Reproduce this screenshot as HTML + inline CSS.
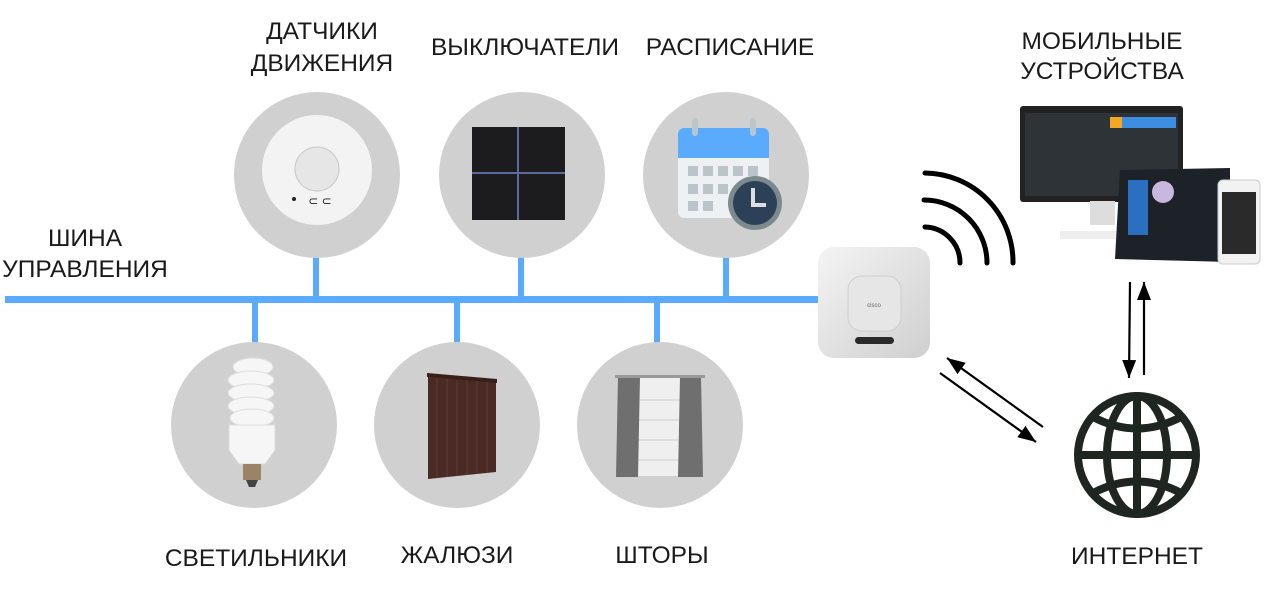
<!DOCTYPE html>
<html><head><meta charset="utf-8"><style>
body{margin:0;background:#fff;width:1280px;height:594px;overflow:hidden}
svg text{font-family:"Liberation Sans",sans-serif;font-size:24.5px;fill:#1a1a1a;text-anchor:middle}
</style></head><body>
<svg width="1280" height="594" viewBox="0 0 1280 594">
<defs>
<linearGradient id="cg" x1="0" y1="0" x2="1" y2="1"><stop offset="0" stop-color="#f4f4f4"/><stop offset="1" stop-color="#cfcfcf"/></linearGradient>
<marker id="ah2" viewBox="0 0 10 10" markerWidth="18" markerHeight="14" refX="10" refY="5" orient="auto" markerUnits="userSpaceOnUse" preserveAspectRatio="none"><path d="M0,0 L10,5 L0,10Z" fill="#000"/></marker>
</defs>
<g fill="#5aaafd">
<rect x="5" y="296" width="815" height="7"/>
<rect x="313" y="255" width="6" height="42"/><rect x="518" y="255" width="6" height="42"/><rect x="723" y="255" width="6" height="42"/>
<rect x="252" y="300" width="6" height="46"/><rect x="454" y="300" width="6" height="46"/><rect x="654" y="300" width="6" height="46"/>
</g>
<g fill="#d0d0d0">
<circle cx="317" cy="175" r="83"/><circle cx="522" cy="175" r="83"/><circle cx="726" cy="175" r="83"/>
<circle cx="254" cy="425" r="83"/><circle cx="457" cy="425" r="83"/><circle cx="660" cy="425" r="83"/>
</g>
<circle cx="317" cy="170" r="55" fill="#f3f3f3"/>
<circle cx="317" cy="169" r="22" fill="#e6e6e6" stroke="#c8c8c8"/>
<circle cx="294" cy="199" r="2" fill="#222"/>
<text x="320" y="205" style="font-size:12px">⊂ ⊂</text>
<rect x="472" y="127" width="93" height="93" fill="#1c1c1e"/>
<rect x="517" y="127" width="2" height="93" fill="#5a6a9a"/><rect x="472" y="172" width="93" height="2" fill="#5a6a9a"/>
<rect x="678" y="128" width="91" height="90" rx="6" fill="#eef1f3"/>
<path d="M678,134 a6,6 0 0 1 6,-6 h79 a6,6 0 0 1 6,6 v24 h-91z" fill="#5aaafd"/>
<rect x="692" y="118" width="6" height="18" rx="3" fill="#bcc4cb"/><rect x="750" y="118" width="6" height="18" rx="3" fill="#bcc4cb"/>
<g fill="#bcc4cb"><rect x="688" y="166" width="10" height="10"/><rect x="703" y="166" width="10" height="10"/><rect x="718" y="166" width="10" height="10"/><rect x="733" y="166" width="10" height="10"/><rect x="748" y="166" width="10" height="10"/>
<rect x="688" y="184" width="10" height="10"/><rect x="703" y="184" width="10" height="10"/><rect x="718" y="184" width="10" height="10"/>
<rect x="688" y="201" width="10" height="10"/><rect x="703" y="201" width="10" height="10"/></g>
<circle cx="755" cy="203" r="27" fill="#7b8a8c"/><circle cx="755" cy="203" r="22" fill="#2c4058"/>
<path d="M753,188 v17 h13" stroke="#ddd" stroke-width="4" fill="none"/>
<g fill="#f6f6f6" stroke="#ddd">
<ellipse cx="253" cy="367" rx="20" ry="9"/><ellipse cx="251" cy="380" rx="23" ry="9"/><ellipse cx="251" cy="393" rx="23" ry="9"/><ellipse cx="251" cy="406" rx="23" ry="9"/><ellipse cx="252" cy="418" rx="22" ry="9"/>
<path d="M229,425 h46 v25 l-10,14 h-26 l-10,-14z"/></g>
<rect x="243" y="464" width="18" height="16" fill="#9a8468"/><path d="M246,480 h12 l-3,7 h-6z" fill="#444"/>
<path d="M428,377 l68,5 v90 l-68,7z" fill="#4a2a24"/><path d="M427,373 l70,6 v4 l-70,-6z" fill="#3a1e1a"/>
<g stroke="#603a32" stroke-width="1"><line x1="437" y1="378" x2="437" y2="478"/><line x1="447" y1="379" x2="447" y2="477"/><line x1="457" y1="380" x2="457" y2="476"/><line x1="467" y1="380" x2="467" y2="475"/><line x1="477" y1="381" x2="477" y2="474"/><line x1="487" y1="382" x2="487" y2="473"/></g>
<rect x="630" y="378" width="58" height="98" fill="#efefef"/>
<g stroke="#cfcfcf"><line x1="635" y1="400" x2="685" y2="400"/><line x1="635" y1="420" x2="685" y2="420"/><line x1="635" y1="440" x2="685" y2="440"/><line x1="635" y1="460" x2="685" y2="460"/></g>
<path d="M618,377 h22 l-2,100 h-22z" fill="#6f6f6f"/><path d="M680,377 h21 l2,100 h-25z" fill="#6f6f6f"/>
<rect x="615" y="375" width="90" height="3" fill="#999"/>
<rect x="818" y="247" width="112" height="111" rx="16" fill="url(#cg)"/>
<rect x="848" y="276" width="53" height="55" rx="14" fill="#e6e6e6" stroke="#cfcfcf"/>
<text x="874" y="307" style="font-size:6px;fill:#666">cisco</text>
<rect x="855" y="337" width="39" height="7" rx="3.5" fill="#2a2a2a"/>
<g stroke="#000" stroke-width="5" fill="none" stroke-linecap="round">
<path d="M925,227 A36,36 0 0 1 960,263"/><path d="M924,200 A63,63 0 0 1 987,263"/><path d="M925,173 A89,89 0 0 1 1013,263"/>
</g>
<rect x="1020" y="106" width="163" height="96" rx="3" fill="#222"/>
<rect x="1025" y="113" width="153" height="83" fill="#2e3338"/>
<rect x="1110" y="117" width="66" height="11" fill="#3d8ee0"/><rect x="1110" y="117" width="12" height="11" fill="#f5a623"/>
<rect x="1090" y="201" width="25" height="24" fill="#ddd"/>
<rect x="1060" y="231" width="60" height="8" fill="#eee"/>
<path d="M1120,170 l110,-2 l0,94 l-115,-3z" fill="#1d2228"/>
<rect x="1128" y="180" width="20" height="55" fill="#2a6fc0"/>
<circle cx="1163" cy="192" r="11" fill="#c9b7e0"/>
<rect x="1218" y="180" width="42" height="84" rx="5" fill="#f2f2f2" stroke="#ccc"/>
<rect x="1222" y="192" width="34" height="62" fill="#2a2a2a"/>
<g stroke="#000" stroke-width="2.2">
<line x1="1130" y1="282" x2="1129" y2="378" marker-end="url(#ah2)"/>
<line x1="1144" y1="375" x2="1144" y2="282" marker-end="url(#ah2)"/>
<line x1="940" y1="373" x2="1036" y2="442" marker-end="url(#ah2)"/>
<line x1="1043" y1="427" x2="947" y2="358" marker-end="url(#ah2)"/>
</g>
<g stroke="#1f2520" stroke-width="8" fill="none">
<circle cx="1137" cy="455" r="59"/>
<ellipse cx="1137" cy="455" rx="30" ry="59"/>
<line x1="1137" y1="396" x2="1137" y2="514"/><line x1="1078" y1="455" x2="1196" y2="455"/>
<path d="M1093,417 Q1137,440 1181,417"/><path d="M1093,493 Q1137,470 1181,493"/>
</g>
<text x="322" y="39">ДАТЧИКИ</text><text x="322" y="71">ДВИЖЕНИЯ</text>
<text x="525" y="55">ВЫКЛЮЧАТЕЛИ</text>
<text x="730" y="55">РАСПИСАНИЕ</text>
<text x="1102" y="49">МОБИЛЬНЫЕ</text><text x="1102" y="79">УСТРОЙСТВА</text>
<text x="85" y="246">ШИНА</text><text x="85" y="277">УПРАВЛЕНИЯ</text>
<text x="256" y="566">СВЕТИЛЬНИКИ</text><text x="457" y="563">ЖАЛЮЗИ</text><text x="662" y="563">ШТОРЫ</text>
<text x="1137" y="564">ИНТЕРНЕТ</text>
</svg>
</body></html>
